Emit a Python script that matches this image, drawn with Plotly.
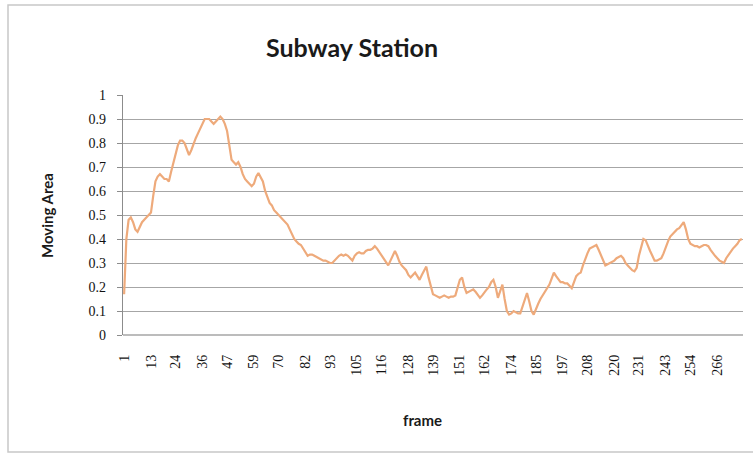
import plotly.graph_objects as go

# Moving area per frame (frames 1..277)
moving_area = [
    0.17, 0.40, 0.48, 0.49, 0.47, 0.44, 0.43, 0.45, 0.47, 0.48,
    0.49, 0.50, 0.51, 0.58, 0.64, 0.66, 0.67, 0.66, 0.65, 0.65,
    0.64, 0.68, 0.72, 0.76, 0.79, 0.81, 0.81, 0.80, 0.77, 0.75,
    0.77, 0.80, 0.82, 0.84, 0.86, 0.88, 0.90, 0.90, 0.90, 0.89,
    0.88, 0.89, 0.90, 0.91, 0.90, 0.88, 0.85, 0.79, 0.73, 0.72,
    0.71, 0.72, 0.70, 0.67, 0.65, 0.64, 0.63, 0.62, 0.63, 0.66,
    0.675, 0.66, 0.64, 0.60, 0.57, 0.55, 0.54, 0.52, 0.51, 0.50,
    0.49, 0.48, 0.47, 0.46, 0.44, 0.42, 0.40, 0.39, 0.38, 0.375,
    0.36, 0.34, 0.33, 0.335, 0.335, 0.33, 0.325, 0.32, 0.315, 0.31,
    0.31, 0.305, 0.30, 0.30, 0.31, 0.32, 0.33, 0.335, 0.33, 0.335,
    0.33, 0.32, 0.31, 0.33, 0.34, 0.345, 0.34, 0.34, 0.35, 0.355,
    0.355, 0.36, 0.37, 0.36, 0.345, 0.335, 0.32, 0.30, 0.29, 0.31,
    0.33, 0.35, 0.33, 0.305, 0.29, 0.28, 0.27, 0.25, 0.24, 0.25,
    0.26, 0.245, 0.23, 0.25, 0.27, 0.285, 0.24, 0.20, 0.17, 0.165,
    0.16, 0.155, 0.16, 0.165, 0.16, 0.155, 0.16, 0.16, 0.165, 0.20,
    0.23, 0.24, 0.20, 0.175, 0.18, 0.185, 0.19, 0.18, 0.165, 0.155,
    0.165, 0.18, 0.19, 0.20, 0.22, 0.23, 0.20, 0.155, 0.18, 0.21,
    0.15, 0.10, 0.085, 0.09, 0.10, 0.095, 0.09, 0.09, 0.12, 0.15,
    0.175, 0.14, 0.10, 0.085, 0.11, 0.13, 0.15, 0.165, 0.18, 0.195,
    0.21, 0.235, 0.26, 0.245, 0.23, 0.22, 0.22, 0.215, 0.215, 0.205,
    0.195, 0.22, 0.245, 0.255, 0.26, 0.29, 0.32, 0.34, 0.36, 0.365,
    0.37, 0.375, 0.355, 0.335, 0.31, 0.29, 0.295, 0.30, 0.305, 0.31,
    0.32, 0.325, 0.33, 0.32, 0.30, 0.29, 0.28, 0.27, 0.265, 0.28,
    0.33, 0.37, 0.40, 0.395, 0.37, 0.35, 0.33, 0.31, 0.31, 0.315,
    0.32, 0.34, 0.37, 0.39, 0.41, 0.42, 0.43, 0.44, 0.445, 0.46,
    0.47, 0.44, 0.40, 0.38, 0.375, 0.37, 0.37, 0.365, 0.37, 0.375,
    0.375, 0.37, 0.355, 0.34, 0.33, 0.32, 0.31, 0.305, 0.30, 0.32,
    0.335, 0.35, 0.36, 0.37, 0.38, 0.395, 0.40,
]
frames = list(range(1, len(moving_area) + 1))

# Category labels shown along the frame axis
frame_ticks = [1, 13, 24, 36, 47, 59, 70, 82, 93, 105, 116, 128,
               139, 151, 162, 174, 185, 197, 208, 220, 231, 243, 254, 266]
area_ticks = [0, 0.1, 0.2, 0.3, 0.4, 0.5, 0.6, 0.7, 0.8, 0.9, 1]
area_tick_text = ["0", "0.1", "0.2", "0.3", "0.4", "0.5", "0.6", "0.7", "0.8", "0.9", "1"]

W, H = 753, 456
L, R, T, B = 123, 10, 95, 121
pw, ph = W - L - R, H - T - B

def px(x):
    return (x - L) / pw

def py(y):
    return (H - B - y) / ph

fig = go.Figure()
fig.add_trace(go.Scatter(
    x=frames, y=moving_area, mode="lines",
    line=dict(color="#EEAA7B", width=2.2),
    showlegend=False, hoverinfo="x+y",
))

serif = "Liberation Serif, DejaVu Serif, serif"
sans = "Lato, Open Sans, sans-serif"

fig.update_layout(
    width=W, height=H,
    margin=dict(l=L, r=R, t=T, b=B),
    paper_bgcolor="white", plot_bgcolor="white",
    xaxis=dict(
        range=[0.5, len(moving_area) + 0.5],
        tickmode="array", tickvals=frame_ticks,
        ticktext=[str(v) for v in frame_ticks],
        tickangle=-90, ticks="", showgrid=False, zeroline=False,
        showline=False,
        tickfont=dict(family=serif, size=14, color="#111"),
        ticklabelstandoff=16,
    ),
    yaxis=dict(
        range=[0, 1], tickmode="array", tickvals=area_ticks,
        ticktext=area_tick_text,
        showgrid=True, gridcolor="#A6A6A6", gridwidth=1.3,
        zeroline=False, showline=True, linecolor="#8C8C8C", linewidth=1.3,
        ticks="outside", ticklen=5, tickcolor="#8C8C8C",
        tickfont=dict(family=serif, size=14, color="#111"),
        ticklabelstandoff=8,
    ),
    shapes=[
        dict(type="rect", xref="paper", yref="paper",
             x0=px(8), x1=px(770), y0=py(452), y1=py(5),
             line=dict(color="#C8C8C8", width=1.5), layer="below"),
        dict(type="line", xref="paper", yref="paper",
             x0=0, x1=1, y0=0, y1=0,
             line=dict(color="#A6A6A6", width=1.3)),
    ],
    annotations=[
        dict(text="<b>Subway Station</b>", xref="paper", yref="paper",
             x=px(352), y=py(47), showarrow=False,
             font=dict(family=sans, size=25, color="#1a1a1a"),
             xanchor="center", yanchor="middle"),
        dict(text="<b>Moving Area</b>", xref="paper", yref="paper",
             x=px(47), y=py(216), showarrow=False, textangle=-90,
             font=dict(family=sans, size=15, color="#1a1a1a"),
             xanchor="center", yanchor="middle"),
        dict(text="<b>frame</b>", xref="paper", yref="paper",
             x=px(422), y=py(420), showarrow=False,
             font=dict(family=sans, size=15, color="#1a1a1a"),
             xanchor="center", yanchor="middle"),
    ],
)

fig.write_html("out.html")
